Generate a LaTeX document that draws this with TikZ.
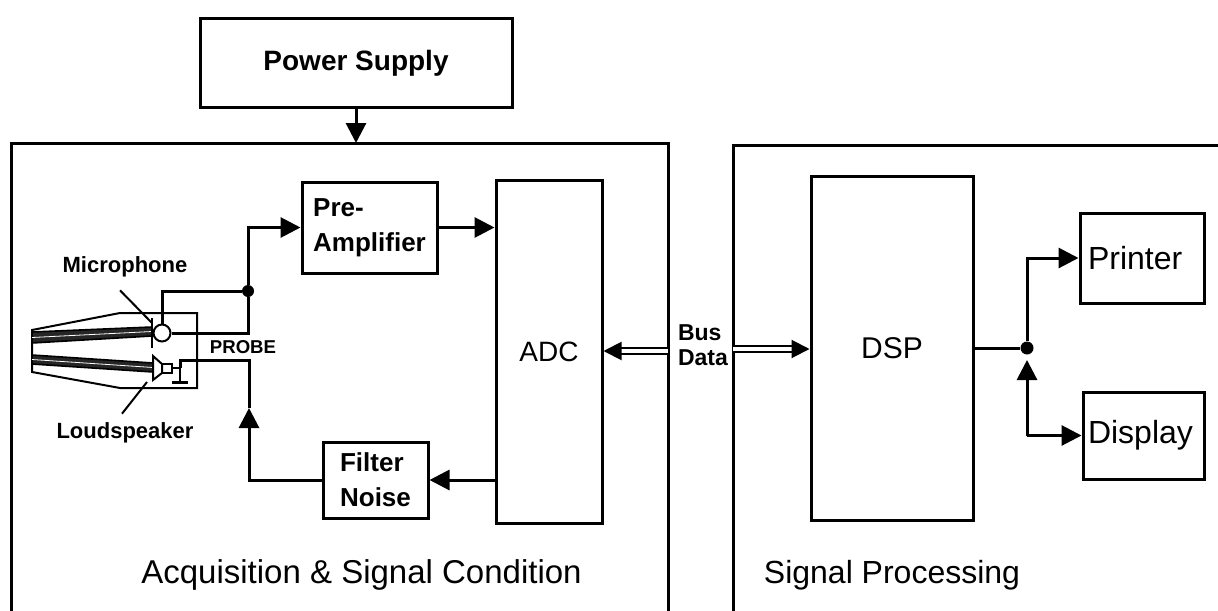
\documentclass[tikz,border=0pt]{standalone}
\usepackage{fontspec}
\setmainfont{Liberation Sans}
\usetikzlibrary{arrows.meta}

\tikzset{
  block/.style={draw, line width=1.5pt, inner sep=0pt},
  arr/.style={line width=1.5pt, -{Triangle[length=10pt,width=10pt]}},
  wire/.style={line width=1.5pt},
  bus/.style={double, double distance=2pt, line width=1pt, -{Triangle[length=9pt,width=9pt]}},
  lead/.style={line width=1pt},
  thin/.style={line width=1pt},
  tube/.style={line width=0.8pt, fill=black!85},
  jdot/.style={circle, fill=black, inner sep=0pt, minimum size=6pt},
}

\begin{document}
\begin{tikzpicture}[x=0.5pt,y=-0.5pt]
\useasboundingbox (0,0) rectangle (1218,610);
\clip (0,0) rectangle (1218,610);

  %% frames
  \draw[line width=1.5pt] (11,143) rectangle (668,660);
  \draw[line width=1.5pt] (733,145) rectangle (1260,660);

  %% blocks
  \node[block, minimum width=156pt, minimum height=44pt,
        font=\bfseries\fontsize{14}{16}\selectfont] (ps) at (356,63) {Power Supply};
  \node[block, minimum width=67.5pt, minimum height=45.5pt, align=left,
        font=\bfseries\fontsize{13}{17.5}\selectfont] (pre) at (369.5,227.5) {Pre-\\Amplifier};
  \node[block, minimum width=53pt, minimum height=171.5pt,
        font=\fontsize{14}{16}\selectfont] (adc) at (549,351.5) {ADC};
  \node[block, minimum width=52.5pt, minimum height=38pt, align=left,
        font=\bfseries\fontsize{13}{17.5}\selectfont] (filt) at (375.5,480) {Filter\\Noise};
  \node[block, minimum width=81pt, minimum height=172pt,
        font=\fontsize{15}{17}\selectfont] (dsp) at (892,348) {DSP};
  \node[block, minimum width=62pt, minimum height=45pt, text width=54pt, inner xsep=4pt,
        align=left, font=\fontsize{16}{19}\selectfont] (prn) at (1142,258) {Printer};
  \node[block, minimum width=60.5pt, minimum height=43.5pt, text width=55.5pt, inner xsep=2.5pt,
        align=left, font=\fontsize{16}{19}\selectfont] (disp) at (1143.5,435.5) {Display};

  %% texts
  \node[font=\bfseries\fontsize{11}{13}\selectfont] (mictxt) at (125,267) {Microphone};
  \node[font=\bfseries\fontsize{11}{13}\selectfont] (spktxt) at (125,433) {Loudspeaker};
  \node[font=\bfseries\fontsize{9.3}{11}\selectfont] (probe) at (243,347) {PROBE};
  \node[anchor=west, align=left,
        font=\bfseries\fontsize{11.5}{12.5}\selectfont] (bustxt) at (671,345) {Bus\\Data};
  \node[font=\fontsize{16.5}{20}\selectfont] (acqtxt) at (361.5,575) {Acquisition \& Signal Condition};
  \node[font=\fontsize{16}{20}\selectfont] (sptxt) at (892,575) {Signal Processing};

  %% probe
  \draw[thin] (32,330) -- (120,313) -- (197,313) -- (197,388) -- (120,388) -- (32,372) -- cycle;
  \filldraw[tube] (32,332) -- (152,327) -- (152,336) -- (32,343) -- cycle;
  \filldraw[tube] (32,355) -- (153,363) -- (153,372) -- (32,364) -- cycle;
  \draw[white, line width=0.4pt] (32,337.5) -- (152,331.5);
  \draw[white, line width=0.4pt] (32,359.5) -- (153,367.5);
  \draw[thin] (152,318) -- (152,348); %% mic holder
  \node[circle, draw, line width=1pt, fill=white, minimum size=8.5pt, inner sep=0pt] (mic) at (162,333) {};
  \filldraw[thin, fill=white] (162,364) -- (153,356) -- (153,380) -- (162,373) -- cycle; %% cone
  \draw[thin] (162,364) rectangle (172,373);
  \draw[thin] (172,368) -- (180,368) -- (180,382);
  \draw[line width=1.5pt] (172,382) -- (188,382); %% ground

  \coordinate (micbr) at (152,323);
  \coordinate (spkbr) at (147,382);
  \draw[lead] ([xshift=-2.5pt,yshift=-3pt]mictxt.south) -- (micbr);
  \draw[lead] ([xshift=-1.5pt,yshift=1pt]spktxt.north) -- (spkbr);

  %% connectors
  \node[jdot] (jn) at (248,291) {};
  \node[jdot, minimum size=6.5pt] (odot) at (1027,348) {};
  \coordinate (acqtop) at (356,143);
  \coordinate (fbtip) at (249,408);
  \coordinate (fbtop) at (249,360);
  \coordinate (spkout) at (180,360);
  \coordinate (busL) at (668,351);
  \coordinate (busR) at (733,349);
  \coordinate (dtip) at (1027,360);
  \coordinate (dbot) at (odot |- disp.west);

  \draw[arr] (ps.south) -- (acqtop);
  \draw[wire] (jn) -| (mic.north);
  \draw[wire] (mic.east) -| (jn);
  \draw[arr] (jn) |- (pre.west);
  \draw[arr] (pre.east) -- (pre.east -| adc.west);
  \draw[arr] (filt.east -| adc.west) -- (filt.east);
  \draw[arr] (filt.west) -| (fbtip);
  \draw[wire] (fbtip) -- (fbtop) -- (spkout) -- (180,368);
  \draw[bus] (busL) -- (busL -| adc.east);
  \draw[bus] (busR) -- (busR -| dsp.west);
  \draw[wire] (dsp.east) -- (odot);
  \draw[arr] (odot) |- (prn.west);
  \draw[arr] (dbot) -- (disp.west);
  \draw[arr] (dbot) -- (dtip);

\end{tikzpicture}
\end{document}
